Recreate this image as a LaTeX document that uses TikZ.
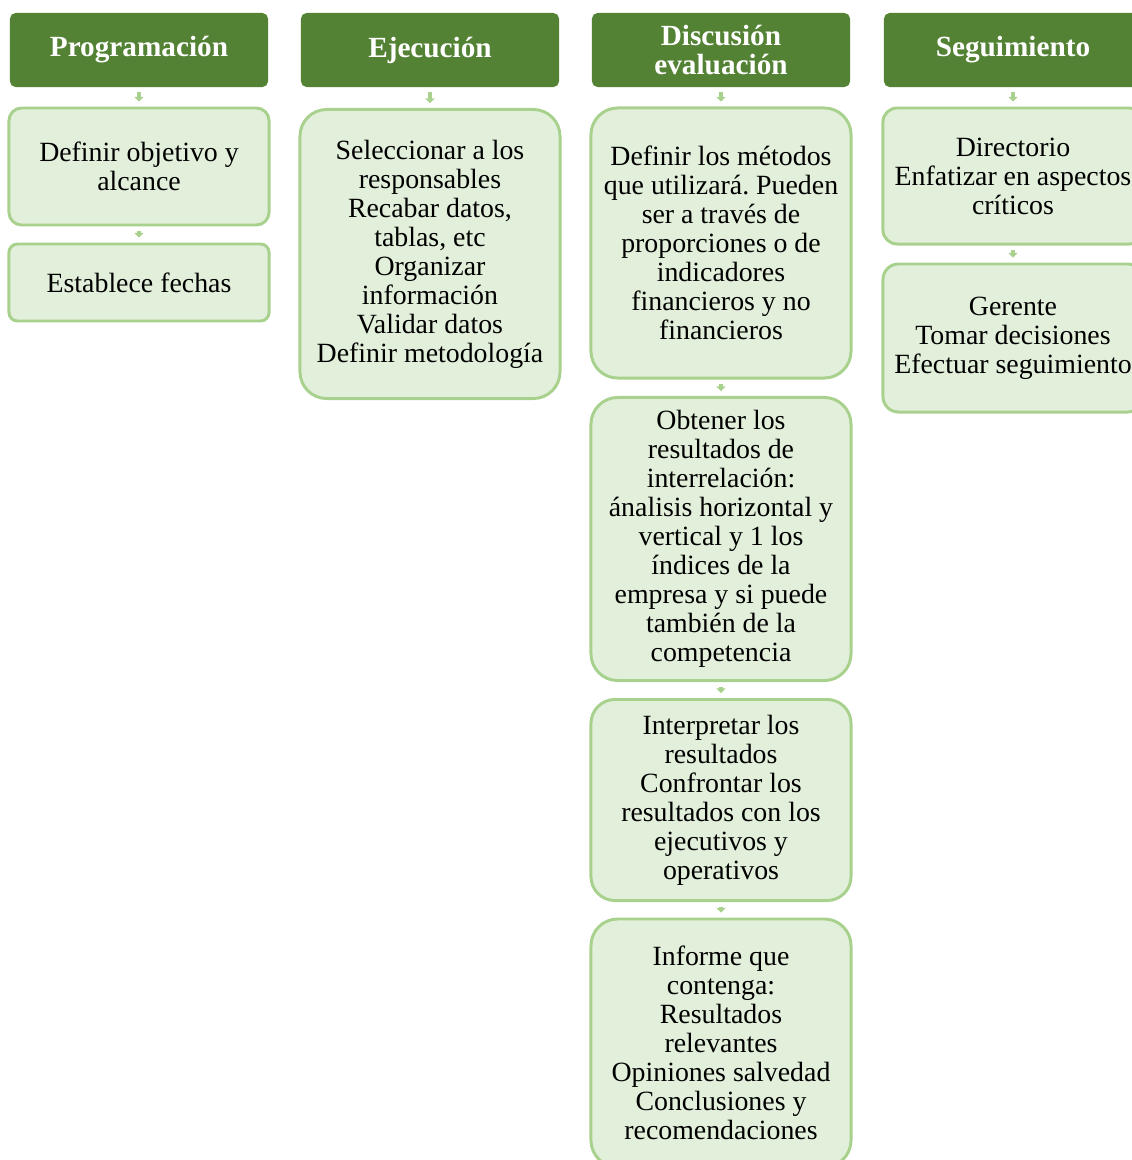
\documentclass[tikz,border=0pt]{standalone}
\usepackage{fontspec}
\setmainfont{Liberation Serif}
\frenchspacing
\usetikzlibrary{arrows.meta}
\definecolor{headgreen}{HTML}{548235}
\definecolor{boxfill}{HTML}{E2EFDA}
\definecolor{boxline}{HTML}{A9D18E}
\definecolor{arrowgreen}{HTML}{A9D18E}

\begin{document}
\begin{tikzpicture}[x=0.025cm,y=-0.025cm]
	\tikzset{
		phase/.style={rectangle, rounded corners=4pt, fill=headgreen, draw=none,
			minimum width=6.45cm, minimum height=1.85cm, text=white, align=center,
			font=\fontsize{20.8}{21.3}\selectfont\bfseries},
		task/.style={rectangle, rounded corners=#1, fill=boxfill, draw=boxline,
			line width=2.1pt, minimum width=6.5cm, align=center, inner sep=2pt,
			font=\fontsize{19.8}{20.6}\selectfont},
		task/.default=8pt,
		flow/.style={draw=arrowgreen, line width=2.8pt,
			-{Triangle[width=6.5pt,length=3.4pt]}, shorten <=3.4pt, shorten >=3.4pt}
	}
	\useasboundingbox (0,0) rectangle (1132,1160);
	\clip (0,0) rectangle (1132,1160);
	\node[phase] (prog) at (139,50) {Programación};
	\node[phase] (ejec) at (430,50) {Ejecución};
	\node[phase] (disc) at (721,50) {Discusión\\evaluación};
	\node[phase] (segu) at (1013,50) {Seguimiento};
	\node[task=9pt, minimum height=2.925cm] (objetivo) at (139,166.5) {Definir objetivo y\\alcance};
	\node[task=6pt, minimum height=1.925cm] (fechas) at (139,282.5) {Establece fechas};
	\node[task=19pt, minimum height=7.225cm] (datos) at (430,254) {Seleccionar a los\\responsables\\Recabar datos,\\tablas, etc\\Organizar\\información\\Validar datos\\Definir metodología};
	\node[task=19pt, minimum height=6.75cm] (metodos) at (721,243) {Definir los métodos\\que utilizará. Pueden\\ser a través de\\proporciones o de\\indicadores\\financieros y no\\financieros};
	\node[task=19pt, minimum height=7.075cm] (resultados) at (721,539) {Obtener los\\resultados de\\interrelación:\\ánalisis horizontal y\\vertical y 1 los\\índices de la\\empresa y si puede\\también de la\\competencia};
	\node[task=17pt, minimum height=5.025cm] (interpretar) at (721,800) {Interpretar los\\resultados\\Confrontar los\\resultados con los\\ejecutivos y\\operativos};
	\node[task=19pt, minimum height=6.2cm] (informe) at (721,1043) {Informe que\\contenga:\\Resultados\\relevantes\\Opiniones salvedad\\Conclusiones y\\recomendaciones};
	\node[task=10pt, minimum height=3.4cm] (directorio) at (1013,176) {Directorio\\Enfatizar en aspectos\\críticos};
	\node[task=11pt, minimum height=3.7cm] (gerente) at (1013,338) {Gerente\\Tomar decisiones\\Efectuar seguimiento};
	\draw[flow] (prog) -- (objetivo);
	\draw[flow] (objetivo) -- (fechas);
	\draw[flow] (ejec) -- (datos);
	\draw[flow] (disc) -- (metodos);
	\draw[flow] (metodos) -- (resultados);
	\draw[flow] (resultados) -- (interpretar);
	\draw[flow] (interpretar) -- (informe);
	\draw[flow] (segu) -- (directorio);
	\draw[flow] (directorio) -- (gerente);
\end{tikzpicture}
\end{document}
